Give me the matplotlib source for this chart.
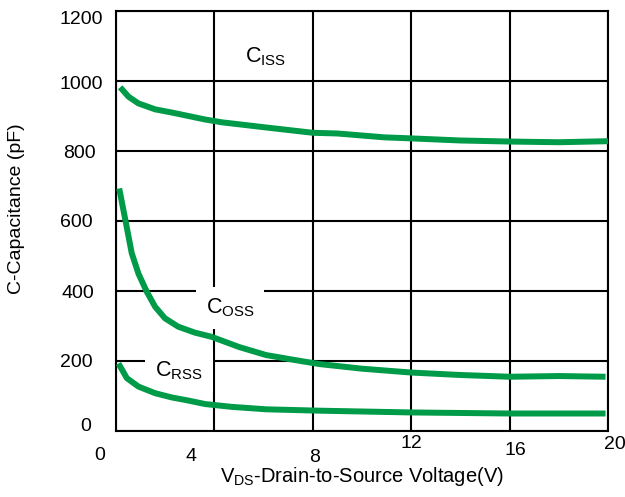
import matplotlib
matplotlib.use('Agg')
import matplotlib.pyplot as plt
from matplotlib.transforms import ScaledTranslation

plt.rcParams['font.family'] = ['Liberation Sans', 'DejaVu Sans']
plt.rcParams['mathtext.default'] = 'regular'

# capacitance curves
vds_iss = [0.17, 0.51, 0.91, 1.59, 2.26, 2.94, 3.62, 4.3, 6.0, 7.5, 8.0, 9.0, 10.9, 12.0, 14.0, 16.0, 18.0, 20.0]
ciss = [982, 955, 936, 919, 910, 900, 890, 882, 868, 856, 852, 850, 839, 836, 830, 827, 825, 828]

vds_oss = [0.13, 0.38, 0.64, 0.91, 1.25, 1.59, 1.99, 2.53, 3.21, 3.89, 5.0, 6.1, 7.5, 8.3,
           10.0, 12.0, 14.0, 16.0, 17.0, 18.0, 19.9]
coss = [693, 603, 508, 450, 398, 355, 322, 298, 281, 269, 240, 217, 200, 191,
        178, 167, 160, 155, 156, 157, 155]

vds_rss = [0.1, 0.44, 0.91, 1.59, 2.26, 2.94, 3.62, 4.7, 6.1, 8.3, 12.0, 16.0, 19.9]
crss = [193, 151, 127, 108, 96, 87, 77, 69, 62, 58, 53, 50, 50]

x_ticks = [0, 4, 8, 12, 16, 20]
y_ticks = [0, 200, 400, 600, 800, 1000, 1200]

# the original's tick labels sit a little off their gridlines (pixels: dx, dy down)
x_nudge = [(-16, 5), (-23, 6), (2, 7), (0, -7), (6, 0), (7, -6)]
y_nudge = [(-14, -6), (-12, 0), (-11, 1), (-12, 0), (-9, 1), (-2, 2), (-2, 7)]

green = '#009b48'

fig = plt.figure(figsize=(6.25, 4.97), dpi=100)
ax = fig.add_axes([0.1856, 0.1328, 0.7872, 0.8451])

for xs, ys in [(vds_iss, ciss), (vds_oss, coss), (vds_rss, crss)]:
    ax.plot(xs, ys, color=green, lw=4.3, solid_capstyle='butt',
            solid_joinstyle='round', zorder=5)

ax.set_xlim(0, 20)
ax.set_ylim(0, 1200)
ax.set_xticks(x_ticks)
ax.set_yticks(y_ticks)
ax.tick_params(length=0, labelsize=14, pad=8)
ax.grid(True, color='black', lw=1.5, zorder=1)
ax.set_axisbelow(True)
for s in ax.spines.values():
    s.set_linewidth(1.5)

for lab, (dx, dy) in zip(ax.get_xticklabels(), x_nudge):
    lab.set_transform(lab.get_transform() + ScaledTranslation(dx / 100, -dy / 100, fig.dpi_scale_trans))
for lab, (dx, dy) in zip(ax.get_yticklabels(), y_nudge):
    lab.set_transform(lab.get_transform() + ScaledTranslation(dx / 100, -dy / 100, fig.dpi_scale_trans))

# curve labels, boxed so they cut the grid like the original
ax.text(6.1, 1068, '$C_{ISS}$', fontsize=15.5, ha='center', va='center', zorder=3)
ax.text(4.63, 352, '$C_{OSS}$', fontsize=15.5, ha='center', va='center', zorder=3,
        bbox=dict(facecolor='white', edgecolor='none', pad=7))
ax.text(2.56, 172, '$C_{RSS}$', fontsize=15.5, ha='center', va='center', zorder=3,
        bbox=dict(facecolor='white', edgecolor='none', pad=7))

ax.set_xlabel('$V_{DS}$-Drain-to-Source Voltage(V)', fontsize=14.5, va='center')
ax.xaxis.set_label_coords(0.5, -0.108)
ax.set_ylabel('C-Capacitance (pF)', fontsize=14, va='center')
ax.yaxis.set_label_coords(-0.202, 0.53)

fig.savefig('out.png', dpi=100)
